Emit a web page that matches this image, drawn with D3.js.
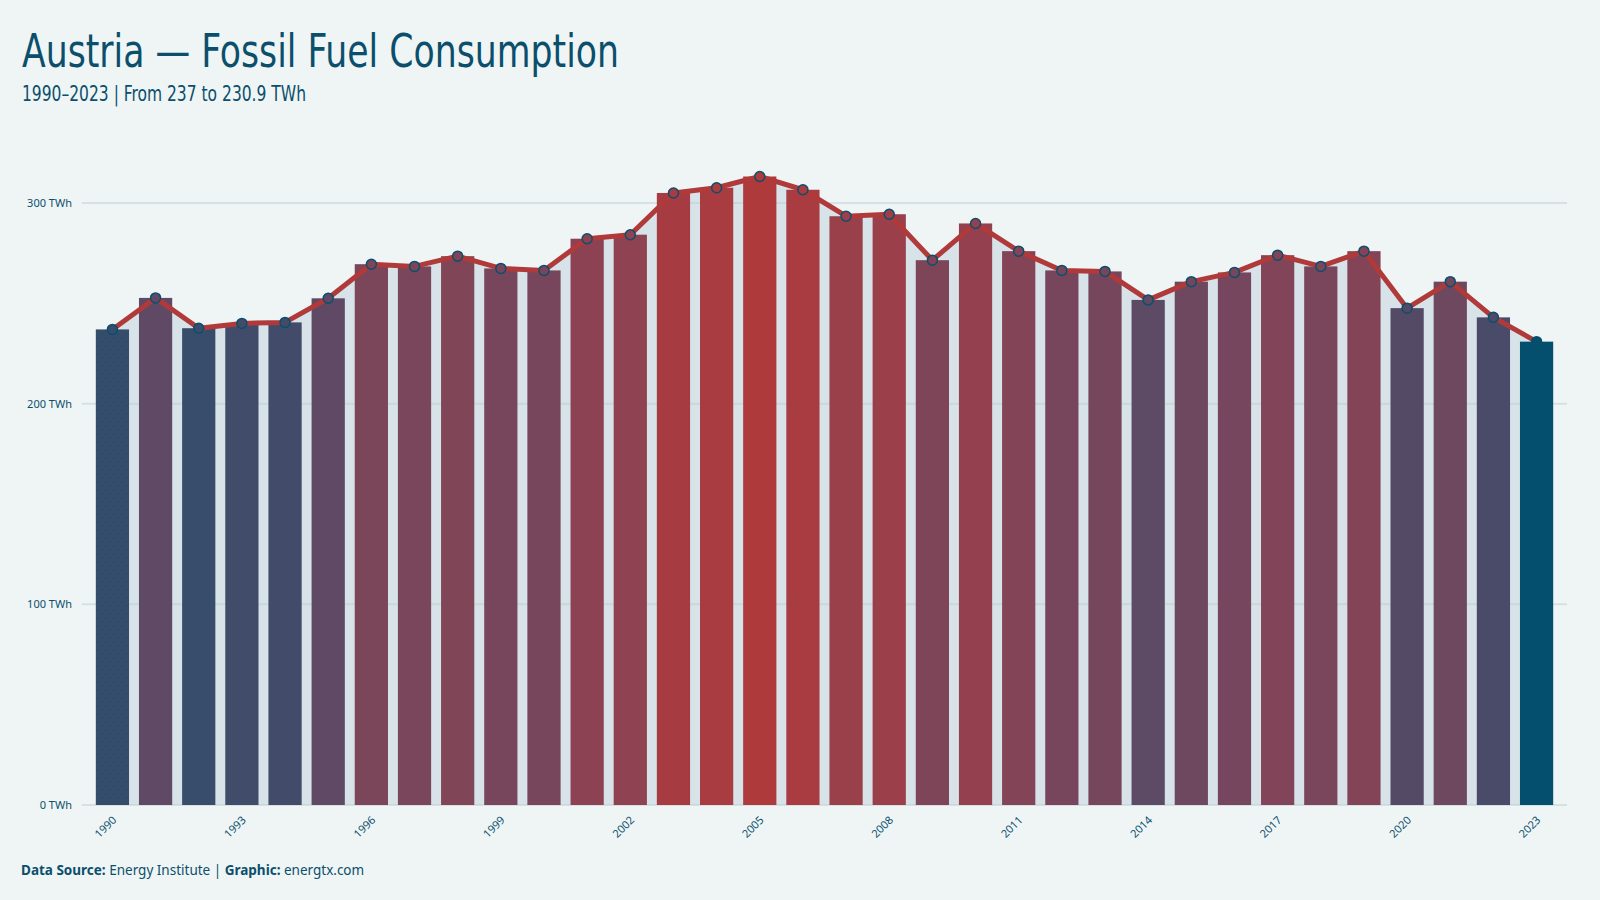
<!DOCTYPE html>
<html>
<head>
<meta charset="utf-8">
<script src="https://cdn.jsdelivr.net/npm/d3@7"></script>
<style>
  html, body { margin: 0; padding: 0; background: #eff5f5; }
  svg { display: block; }
</style>
</head>
<body>
<div id="chart"></div>
<script>
// chart.js
const width = 1600;
const height = 900;

// Data
const years = d3.range(1990, 2024);
const values = [
    237.0, 252.7, 237.6, 240.0, 240.5, 252.5, 269.5, 268.4, 273.5, 267.4,
    266.4, 282.2, 284.2, 305.0, 307.6, 313.2, 306.6, 293.4, 294.4, 271.5,
    289.8, 276.0, 266.4, 265.9, 251.7, 260.8, 265.4, 274.0, 268.4, 276.0,
    247.6, 260.8, 243.0, 230.9
];
const tickYears = [1990, 1993, 1996, 1999, 2002, 2005, 2008, 2011, 2014, 2017, 2020, 2023];
const yTicks = [0, 100, 200, 300];

const data = years.map((y, i) => ({ year: y, value: values[i] }));

// Colors
const bg = "#eff5f5";
const textColor = "#0b4f6c";
const lowColor = "#044e6e";
const highColor = "#ae3a3b";
const lineColor = "#b03a3a";
const areaColor = "#d7e3e8";

const svg = d3.select("#chart")
    .append("svg")
    .attr("width", width)
    .attr("height", height);

svg.append("rect")
    .attr("width", width)
    .attr("height", height)
    .attr("fill", bg);

// Scales
const x = d3.scaleBand()
    .domain(years)
    .range([82, 1567])
    .paddingInner(0.23)
    .paddingOuter(0.32);

const y = d3.scaleLinear()
    .domain([0, 330])
    .range([805, 805 - 330 * 2.0067]);

const vMin = d3.min(values);
const vMax = d3.max(values);
const colorInterp = d3.interpolateRgb.gamma(2.2)(lowColor, highColor);
const color = v => colorInterp((v - vMin) / (vMax - vMin));

const cx = d => x(d.year) + x.bandwidth() / 2;

// Area under the line
const area = d3.area()
    .x(cx)
    .y0(y(0))
    .y1(d => y(d.value));

svg.append("path")
    .datum(data)
    .attr("d", area)
    .attr("fill", areaColor);

// Grid lines
svg.append("g")
    .selectAll("line")
    .data(yTicks)
    .enter().append("line")
    .attr("x1", 82)
    .attr("x2", 1567)
    .attr("y1", d => y(d))
    .attr("y2", d => y(d))
    .attr("stroke", "#b9c9cf")
    .attr("stroke-opacity", 0.45)
    .attr("stroke-width", 2);

// Y labels
svg.append("g")
    .selectAll("text")
    .data(yTicks)
    .enter().append("text")
    .attr("x", 72)
    .attr("y", d => y(d))
    .attr("dy", "0.35em")
    .attr("text-anchor", "end")
    .attr("font-family", "'Noto Sans', 'Open Sans', sans-serif")
    .attr("font-size", 11)
    .attr("fill", textColor)
    .text(d => `${d} TWh`);

// Dot pattern for first bar
const defs = svg.append("defs");
const pat = defs.append("pattern")
    .attr("id", "dots")
    .attr("width", 8)
    .attr("height", 8)
    .attr("patternUnits", "userSpaceOnUse");
pat.append("rect").attr("width", 8).attr("height", 8).attr("fill", color(values[0]));
pat.append("circle").attr("cx", 2).attr("cy", 2).attr("r", 0.7).attr("fill", "#0b4f6c");
pat.append("circle").attr("cx", 6).attr("cy", 6).attr("r", 0.7).attr("fill", "#0b4f6c");

// Bars
svg.append("g")
    .selectAll("rect")
    .data(data)
    .enter().append("rect")
    .attr("x", d => x(d.year))
    .attr("y", d => y(d.value))
    .attr("width", x.bandwidth())
    .attr("height", d => y(0) - y(d.value))
    .attr("fill", (d, i) => i === 0 ? "url(#dots)" : color(d.value));

// Line
const line = d3.line()
    .x(cx)
    .y(d => y(d.value));

svg.append("path")
    .datum(data)
    .attr("d", line)
    .attr("fill", "none")
    .attr("stroke", lineColor)
    .attr("stroke-width", 5)
    .attr("stroke-linejoin", "round");

// Points
svg.append("g")
    .selectAll("circle")
    .data(data)
    .enter().append("circle")
    .attr("cx", cx)
    .attr("cy", d => y(d.value))
    .attr("r", 5)
    .attr("fill", d => color(d.value))
    .attr("stroke", textColor)
    .attr("stroke-width", 1.5);

// X labels
svg.append("g")
    .selectAll("text")
    .data(tickYears)
    .enter().append("text")
    .attr("transform", d => `translate(${x(d) + x.bandwidth() / 2 + 2},${818}) rotate(-45)`)
    .attr("text-anchor", "end")
    .attr("dy", "0.35em")
    .attr("font-family", "'Noto Sans', 'Open Sans', sans-serif")
    .attr("font-size", 11)
    .attr("fill", textColor)
    .text(d => d);

// Title and subtitle
svg.append("text")
    .attr("x", 22)
    .attr("y", 67)
    .attr("font-family", "'DejaVu Sans', sans-serif")
    .attr("font-stretch", "condensed")
    .attr("font-size", 46)
    .attr("textLength", 597)
    .attr("lengthAdjust", "spacingAndGlyphs")
    .attr("fill", textColor)
    .text("Austria \u2014 Fossil Fuel Consumption");

svg.append("text")
    .attr("x", 22)
    .attr("y", 101)
    .attr("font-family", "'DejaVu Sans', sans-serif")
    .attr("font-stretch", "condensed")
    .attr("font-size", 21)
    .attr("textLength", 284)
    .attr("lengthAdjust", "spacingAndGlyphs")
    .attr("fill", textColor)
    .text("1990\u20132023 | From 237 to 230.9 TWh");

// Footer
const footer = svg.append("text")
    .attr("x", 21)
    .attr("y", 875)
    .attr("font-family", "'Noto Sans', 'Open Sans', sans-serif")
    .attr("font-size", 13.5)
    .attr("fill", textColor);
footer.append("tspan").attr("font-weight", "bold").text("Data Source:");
footer.append("tspan").text(" Energy Institute | ");
footer.append("tspan").attr("font-weight", "bold").text("Graphic:");
footer.append("tspan").text(" energtx.com");
</script>
</body>
</html>
